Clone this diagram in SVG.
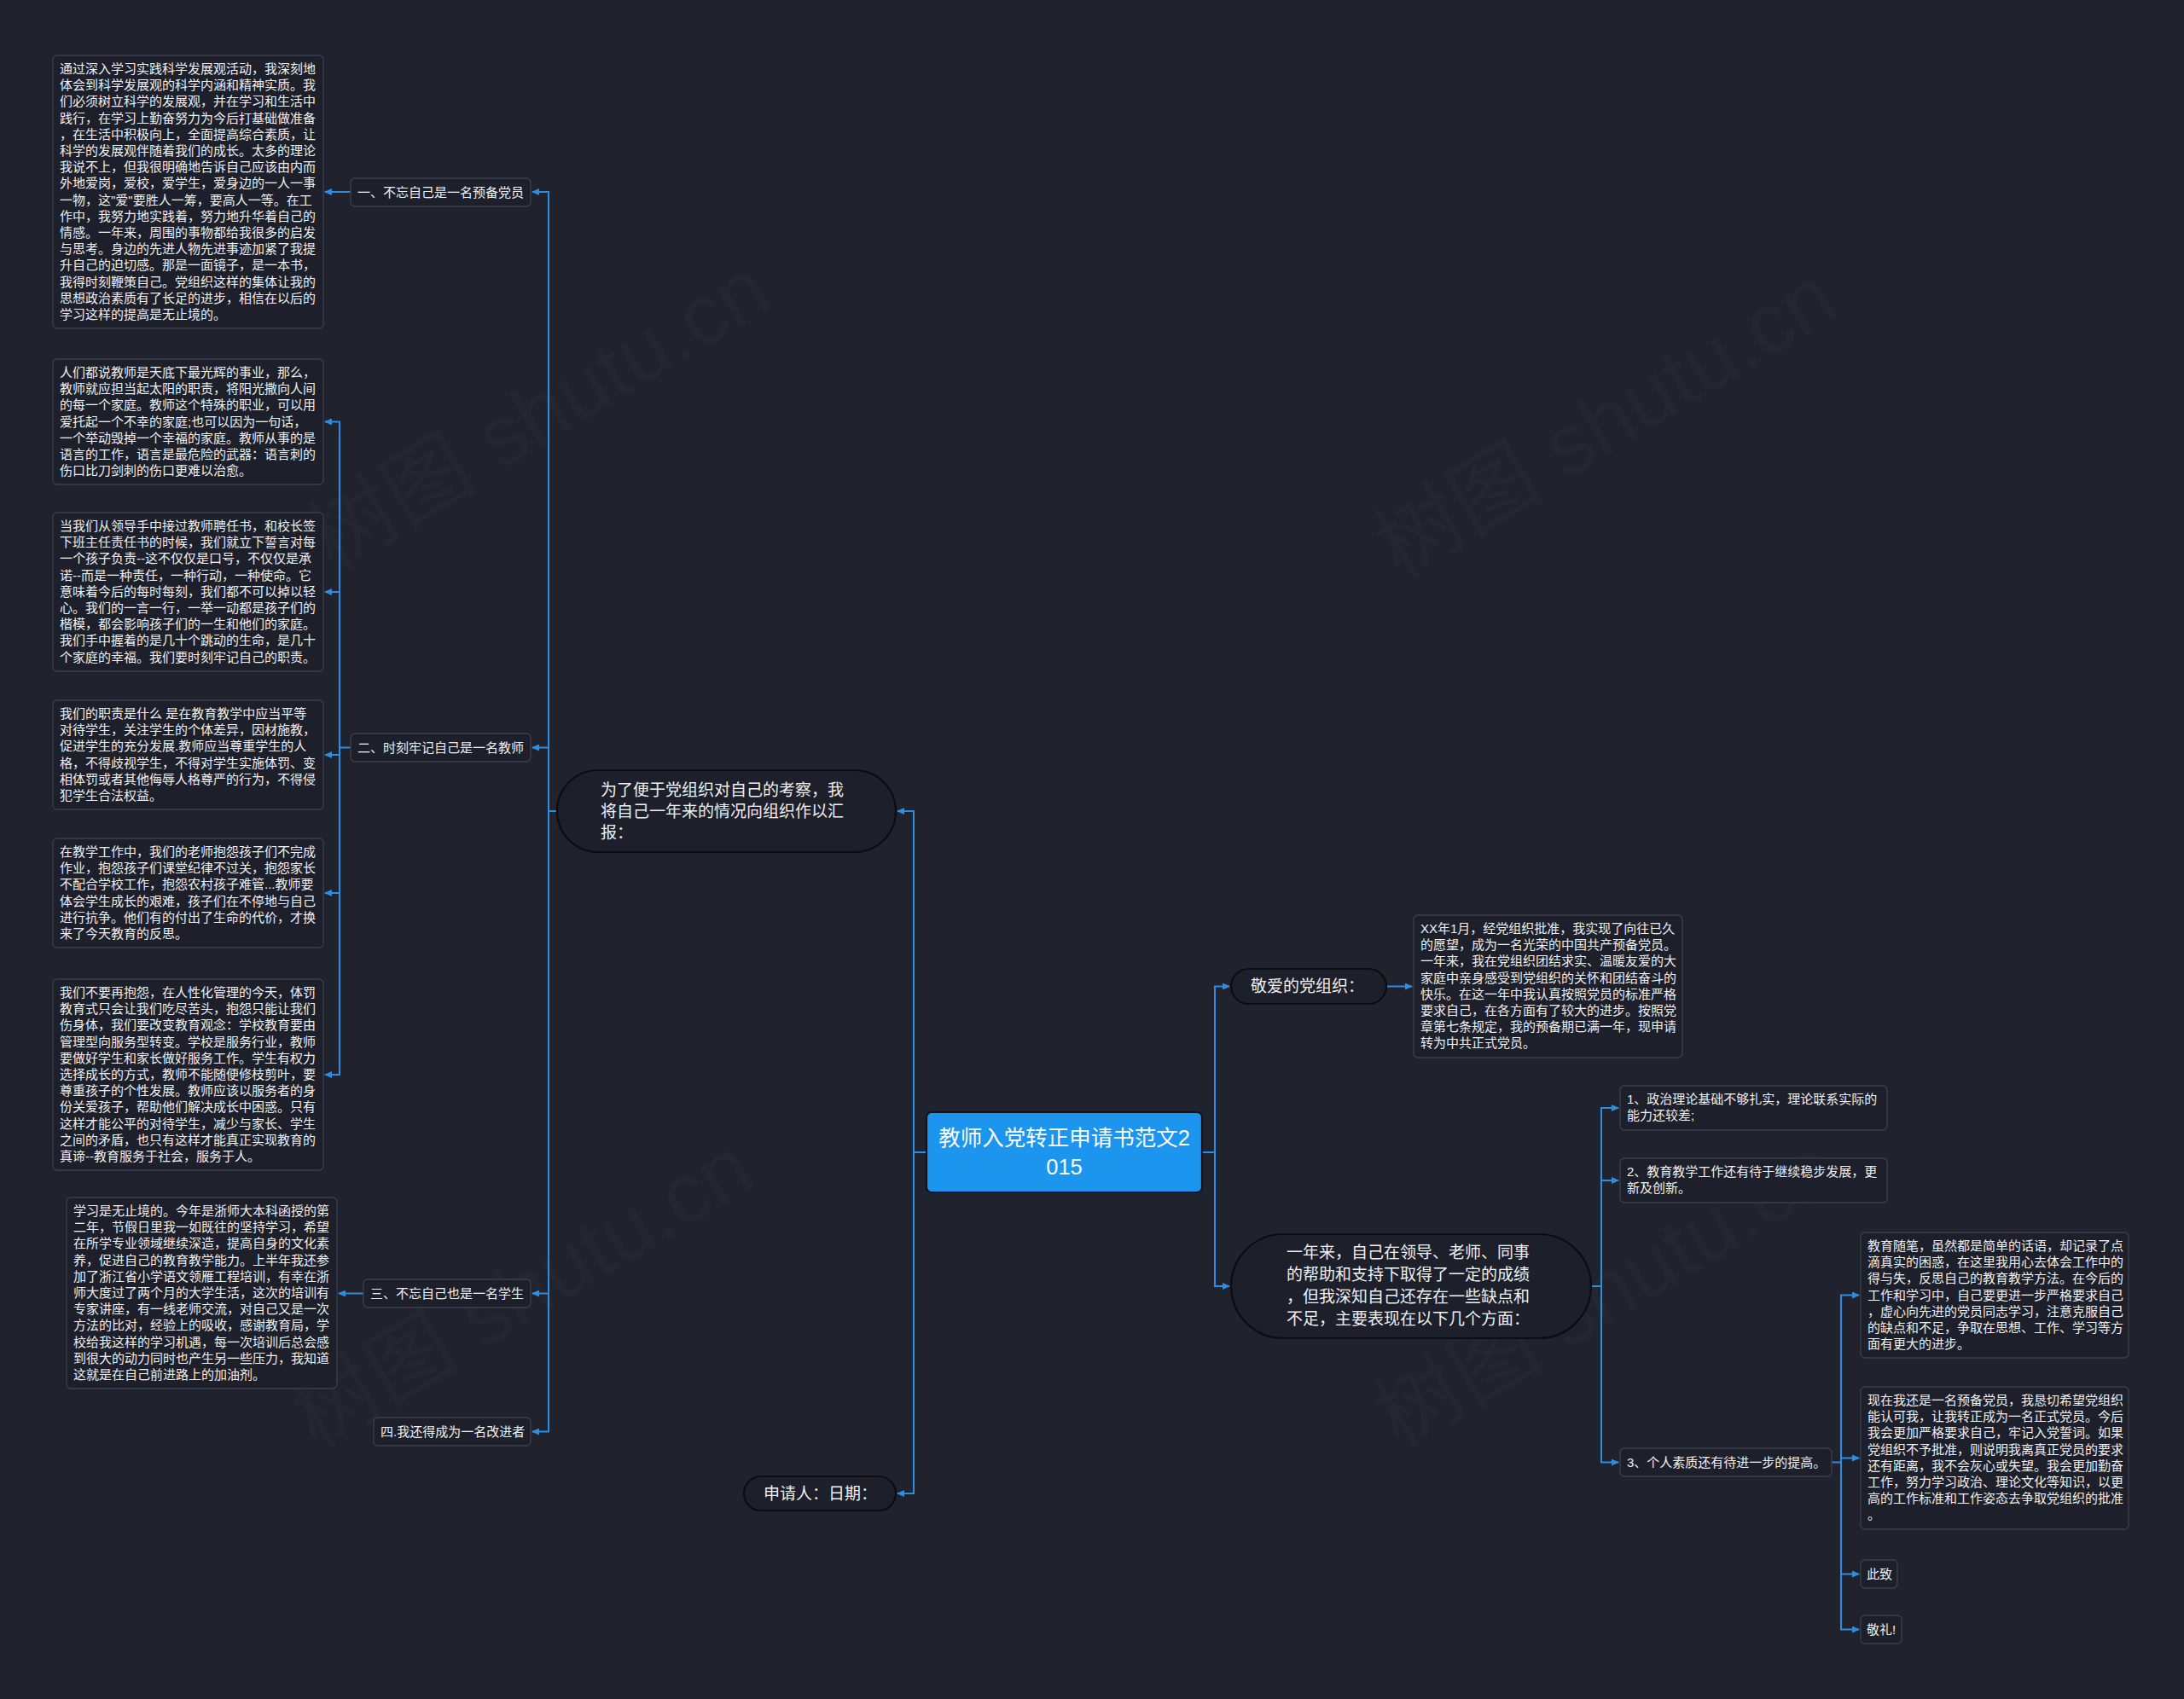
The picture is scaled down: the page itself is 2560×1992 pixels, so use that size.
<svg xmlns="http://www.w3.org/2000/svg" width="2560" height="1992" viewBox="0 0 2560 1992">
<defs>
<style>
.bg{fill:#20232e}
.box{fill:#1d202a;stroke:#3c404b;stroke-width:1.3}
.bub{fill:#1d202a;stroke:#0b0d12;stroke-width:2.2}
.root{fill:#1c95ee;stroke:#0b1420;stroke-width:2.2}
.t{font-family:'Liberation Sans','Noto Sans CJK SC',sans-serif;fill:#eef0f3}
.s15{font-size:15px}
.s19{font-size:19px}
.s25{font-size:25.5px;fill:#ffffff}
.c{fill:none;stroke:#2b8ee2;stroke-width:2}
.wm{font-family:'Liberation Sans','Noto Sans CJK SC',sans-serif;font-size:100px;fill:#ffffff;fill-opacity:0.02}
</style>
<marker id="ah" markerWidth="9" markerHeight="8" refX="8" refY="4" orient="auto" markerUnits="userSpaceOnUse">
<path d="M0,0 L9,4 L0,8 z" fill="#2b8ee2"/>
</marker>
</defs>
<rect class="bg" x="0" y="0" width="2560" height="1992"/>

<g id="watermarks">
<text class="wm" transform="translate(390,670) rotate(-31)">树图 shutu.cn</text>
<text class="wm" transform="translate(1640,680) rotate(-31)">树图 shutu.cn</text>
<text class="wm" transform="translate(370,1700) rotate(-31)">树图 shutu.cn</text>
<text class="wm" transform="translate(1640,1700) rotate(-31)">树图 shutu.cn</text>
</g>

<g id="connectors">
<path class="c" d="M1086,1351 H1071 V951 H1052" marker-end="url(#ah)"/>
<path class="c" d="M1071,1351 V1751 H1052" marker-end="url(#ah)"/>
<path class="c" d="M653,951 H643 V225 H624" marker-end="url(#ah)"/>
<path class="c" d="M643,951 V1678.5 H624" marker-end="url(#ah)"/>
<path class="c" d="M643,876.5 H624" marker-end="url(#ah)"/>
<path class="c" d="M643,1516.5 H624" marker-end="url(#ah)"/>
<path class="c" d="M411,225 H381" marker-end="url(#ah)"/>
<path class="c" d="M411,876.5 H398 V494.5 H381" marker-end="url(#ah)"/>
<path class="c" d="M398,876.5 V1260 H381" marker-end="url(#ah)"/>
<path class="c" d="M398,694 H381" marker-end="url(#ah)"/>
<path class="c" d="M398,885 H381" marker-end="url(#ah)"/>
<path class="c" d="M398,1047 H381" marker-end="url(#ah)"/>
<path class="c" d="M426,1516.5 H397" marker-end="url(#ah)"/>
<path class="c" d="M1409,1351 H1424 V1156.5 H1441" marker-end="url(#ah)"/>
<path class="c" d="M1424,1351 V1508 H1441" marker-end="url(#ah)"/>
<path class="c" d="M1625,1156.5 H1655" marker-end="url(#ah)"/>
<path class="c" d="M1865,1508 H1877 V1299 H1897" marker-end="url(#ah)"/>
<path class="c" d="M1877,1508 V1714.5 H1897" marker-end="url(#ah)"/>
<path class="c" d="M1877,1384 H1897" marker-end="url(#ah)"/>
<path class="c" d="M2147,1714.5 H2158 V1518.5 H2179" marker-end="url(#ah)"/>
<path class="c" d="M2158,1714.5 V1910.5 H2179" marker-end="url(#ah)"/>
<path class="c" d="M2158,1709.5 H2179" marker-end="url(#ah)"/>
<path class="c" d="M2158,1845.5 H2179" marker-end="url(#ah)"/>
</g>

<g id="root">
<rect class="root" x="1086" y="1304" width="323" height="94" rx="6"/>
<text class="t s25" text-anchor="middle"><tspan x="1247.5" y="1343">教师入党转正申请书范文2</tspan><tspan x="1247.5" y="1377">015</tspan></text>
</g>

<g id="n-report">
<rect class="bub" x="653" y="903" width="397" height="96" rx="48"/>
<text class="t s19"><tspan x="704" y="933">为了便于党组织对自己的考察，我</tspan><tspan x="704" y="958">将自己一年来的情况向组织作以汇</tspan><tspan x="704" y="983">报：</tspan></text>
</g>

<g id="n-sign">
<rect class="bub" x="872" y="1731" width="178" height="40" rx="20"/>
<text class="t s19" x="895" y="1758">申请人：日期：</text>
</g>

<g id="n-l1">
<rect class="box" x="411" y="209" width="211" height="33" rx="5"/>
<text class="t s15" x="419" y="231">一、不忘自己是一名预备党员</text>
</g>
<g id="n-l2">
<rect class="box" x="411" y="860" width="211" height="33" rx="5"/>
<text class="t s15" x="419" y="882">二、时刻牢记自己是一名教师</text>
</g>
<g id="n-l3">
<rect class="box" x="426" y="1500" width="196" height="33" rx="5"/>
<text class="t s15" x="434" y="1522">三、不忘自己也是一名学生</text>
</g>
<g id="n-l4">
<rect class="box" x="438" y="1662" width="184" height="33" rx="5"/>
<text class="t s15" x="446" y="1684">四.我还得成为一名改进者</text>
</g>

<g id="n-b1">
<rect class="box" x="62" y="65" width="317" height="320" rx="5"/>
<text class="t s15">
<tspan x="70" y="86">通过深入学习实践科学发展观活动，我深刻地</tspan>
<tspan x="70" y="105.2">体会到科学发展观的科学内涵和精神实质。我</tspan>
<tspan x="70" y="124.4">们必须树立科学的发展观，并在学习和生活中</tspan>
<tspan x="70" y="143.6">践行，在学习上勤奋努力为今后打基础做准备</tspan>
<tspan x="70" y="162.8">，在生活中积极向上，全面提高综合素质，让</tspan>
<tspan x="70" y="182">科学的发展观伴随着我们的成长。太多的理论</tspan>
<tspan x="70" y="201.2">我说不上，但我很明确地告诉自己应该由内而</tspan>
<tspan x="70" y="220.4">外地爱岗，爱校，爱学生，爱身边的一人一事</tspan>
<tspan x="70" y="239.6">一物，这"爱"要胜人一筹，要高人一等。在工</tspan>
<tspan x="70" y="258.8">作中，我努力地实践着，努力地升华着自己的</tspan>
<tspan x="70" y="278">情感。一年来，周围的事物都给我很多的启发</tspan>
<tspan x="70" y="297.2">与思考。身边的先进人物先进事迹加紧了我提</tspan>
<tspan x="70" y="316.4">升自己的迫切感。那是一面镜子，是一本书，</tspan>
<tspan x="70" y="335.6">我得时刻鞭策自己。党组织这样的集体让我的</tspan>
<tspan x="70" y="354.8">思想政治素质有了长足的进步，相信在以后的</tspan>
<tspan x="70" y="374">学习这样的提高是无止境的。</tspan>
</text>
</g>

<g id="n-b2">
<rect class="box" x="62" y="421" width="317" height="147" rx="5"/>
<text class="t s15">
<tspan x="70" y="442">人们都说教师是天底下最光辉的事业，那么，</tspan>
<tspan x="70" y="461.2">教师就应担当起太阳的职责，将阳光撒向人间</tspan>
<tspan x="70" y="480.4">的每一个家庭。教师这个特殊的职业，可以用</tspan>
<tspan x="70" y="499.6">爱托起一个不幸的家庭;也可以因为一句话，</tspan>
<tspan x="70" y="518.8">一个举动毁掉一个幸福的家庭。教师从事的是</tspan>
<tspan x="70" y="538">语言的工作，语言是最危险的武器：语言刺的</tspan>
<tspan x="70" y="557.2">伤口比刀剑刺的伤口更难以治愈。</tspan>
</text>
</g>

<g id="n-b3">
<rect class="box" x="62" y="601" width="317" height="186" rx="5"/>
<text class="t s15">
<tspan x="70" y="622">当我们从领导手中接过教师聘任书，和校长签</tspan>
<tspan x="70" y="641.2">下班主任责任书的时候，我们就立下誓言对每</tspan>
<tspan x="70" y="660.4">一个孩子负责--这不仅仅是口号，不仅仅是承</tspan>
<tspan x="70" y="679.6">诺--而是一种责任，一种行动，一种使命。它</tspan>
<tspan x="70" y="698.8">意味着今后的每时每刻，我们都不可以掉以轻</tspan>
<tspan x="70" y="718">心。我们的一言一行，一举一动都是孩子们的</tspan>
<tspan x="70" y="737.2">楷模，都会影响孩子们的一生和他们的家庭。</tspan>
<tspan x="70" y="756.4">我们手中握着的是几十个跳动的生命，是几十</tspan>
<tspan x="70" y="775.6">个家庭的幸福。我们要时刻牢记自己的职责。</tspan>
</text>
</g>

<g id="n-b4">
<rect class="box" x="62" y="821" width="317" height="128" rx="5"/>
<text class="t s15">
<tspan x="70" y="842">我们的职责是什么 是在教育教学中应当平等</tspan>
<tspan x="70" y="861.2">对待学生，关注学生的个体差异，因材施教，</tspan>
<tspan x="70" y="880.4">促进学生的充分发展.教师应当尊重学生的人</tspan>
<tspan x="70" y="899.6">格，不得歧视学生，不得对学生实施体罚、变</tspan>
<tspan x="70" y="918.8">相体罚或者其他侮辱人格尊严的行为，不得侵</tspan>
<tspan x="70" y="938">犯学生合法权益。</tspan>
</text>
</g>

<g id="n-b5">
<rect class="box" x="62" y="983" width="317" height="128" rx="5"/>
<text class="t s15">
<tspan x="70" y="1004">在教学工作中，我们的老师抱怨孩子们不完成</tspan>
<tspan x="70" y="1023.2">作业，抱怨孩子们课堂纪律不过关，抱怨家长</tspan>
<tspan x="70" y="1042.4">不配合学校工作，抱怨农村孩子难管...教师要</tspan>
<tspan x="70" y="1061.6">体会学生成长的艰难，孩子们在不停地与自己</tspan>
<tspan x="70" y="1080.8">进行抗争。他们有的付出了生命的代价，才换</tspan>
<tspan x="70" y="1100">来了今天教育的反思。</tspan>
</text>
</g>

<g id="n-b6">
<rect class="box" x="62" y="1148" width="317" height="224" rx="5"/>
<text class="t s15">
<tspan x="70" y="1169">我们不要再抱怨，在人性化管理的今天，体罚</tspan>
<tspan x="70" y="1188.2">教育式只会让我们吃尽苦头，抱怨只能让我们</tspan>
<tspan x="70" y="1207.4">伤身体，我们要改变教育观念：学校教育要由</tspan>
<tspan x="70" y="1226.6">管理型向服务型转变。学校是服务行业，教师</tspan>
<tspan x="70" y="1245.8">要做好学生和家长做好服务工作。学生有权力</tspan>
<tspan x="70" y="1265">选择成长的方式，教师不能随便修枝剪叶，要</tspan>
<tspan x="70" y="1284.2">尊重孩子的个性发展。教师应该以服务者的身</tspan>
<tspan x="70" y="1303.4">份关爱孩子，帮助他们解决成长中困惑。只有</tspan>
<tspan x="70" y="1322.6">这样才能公平的对待学生，减少与家长、学生</tspan>
<tspan x="70" y="1341.8">之间的矛盾，也只有这样才能真正实现教育的</tspan>
<tspan x="70" y="1361">真谛--教育服务于社会，服务于人。</tspan>
</text>
</g>

<g id="n-b7">
<rect class="box" x="78" y="1404" width="317" height="224" rx="5"/>
<text class="t s15">
<tspan x="86" y="1425">学习是无止境的。今年是浙师大本科函授的第</tspan>
<tspan x="86" y="1444.2">二年，节假日里我一如既往的坚持学习，希望</tspan>
<tspan x="86" y="1463.4">在所学专业领域继续深造，提高自身的文化素</tspan>
<tspan x="86" y="1482.6">养，促进自己的教育教学能力。上半年我还参</tspan>
<tspan x="86" y="1501.8">加了浙江省小学语文领雁工程培训，有幸在浙</tspan>
<tspan x="86" y="1521">师大度过了两个月的大学生活，这次的培训有</tspan>
<tspan x="86" y="1540.2">专家讲座，有一线老师交流，对自己又是一次</tspan>
<tspan x="86" y="1559.4">方法的比对，经验上的吸收，感谢教育局，学</tspan>
<tspan x="86" y="1578.6">校给我这样的学习机遇，每一次培训后总会感</tspan>
<tspan x="86" y="1597.8">到很大的动力同时也产生另一些压力，我知道</tspan>
<tspan x="86" y="1617">这就是在自己前进路上的加油剂。</tspan>
</text>
</g>

<g id="n-dear">
<rect class="bub" x="1443" y="1136" width="182" height="41" rx="20.5"/>
<text class="t s19" x="1466" y="1163">敬爱的党组织：</text>
</g>

<g id="n-r1">
<rect class="box" x="1657" y="1073" width="315" height="167" rx="5"/>
<text class="t s15">
<tspan x="1665" y="1094">XX年1月，经党组织批准，我实现了向往已久</tspan>
<tspan x="1665" y="1113.2">的愿望，成为一名光荣的中国共产预备党员。</tspan>
<tspan x="1665" y="1132.4">一年来，我在党组织团结求实、温暖友爱的大</tspan>
<tspan x="1665" y="1151.6">家庭中亲身感受到党组织的关怀和团结奋斗的</tspan>
<tspan x="1665" y="1170.8">快乐。在这一年中我认真按照党员的标准严格</tspan>
<tspan x="1665" y="1190">要求自己，在各方面有了较大的进步。按照党</tspan>
<tspan x="1665" y="1209.2">章第七条规定，我的预备期已满一年，现申请</tspan>
<tspan x="1665" y="1228.4">转为中共正式党员。</tspan>
</text>
</g>

<g id="n-year">
<rect class="bub" x="1443" y="1447" width="422" height="122" rx="61"/>
<text class="t s19">
<tspan x="1508" y="1475">一年来，自己在领导、老师、同事</tspan>
<tspan x="1508" y="1501">的帮助和支持下取得了一定的成绩</tspan>
<tspan x="1508" y="1527">，但我深知自己还存在一些缺点和</tspan>
<tspan x="1508" y="1553">不足，主要表现在以下几个方面：</tspan>
</text>
</g>

<g id="n-i1">
<rect class="box" x="1899" y="1273" width="313" height="52" rx="5"/>
<text class="t s15"><tspan x="1907" y="1294">1、政治理论基础不够扎实，理论联系实际的</tspan><tspan x="1907" y="1313.2">能力还较差;</tspan></text>
</g>
<g id="n-i2">
<rect class="box" x="1899" y="1358" width="313" height="52" rx="5"/>
<text class="t s15"><tspan x="1907" y="1379">2、教育教学工作还有待于继续稳步发展，更</tspan><tspan x="1907" y="1398.2">新及创新。</tspan></text>
</g>
<g id="n-i3">
<rect class="box" x="1899" y="1698" width="248" height="33" rx="5"/>
<text class="t s15" x="1907" y="1720">3、个人素质还有待进一步的提高。</text>
</g>

<g id="n-a">
<rect class="box" x="2181" y="1445" width="314" height="147" rx="5"/>
<text class="t s15">
<tspan x="2189" y="1466">教育随笔，虽然都是简单的话语，却记录了点</tspan>
<tspan x="2189" y="1485.2">滴真实的困惑，在这里我用心去体会工作中的</tspan>
<tspan x="2189" y="1504.4">得与失，反思自己的教育教学方法。在今后的</tspan>
<tspan x="2189" y="1523.6">工作和学习中，自己要更进一步严格要求自己</tspan>
<tspan x="2189" y="1542.8">，虚心向先进的党员同志学习，注意克服自己</tspan>
<tspan x="2189" y="1562">的缺点和不足，争取在思想、工作、学习等方</tspan>
<tspan x="2189" y="1581.2">面有更大的进步。</tspan>
</text>
</g>

<g id="n-b">
<rect class="box" x="2181" y="1626" width="314" height="167" rx="5"/>
<text class="t s15">
<tspan x="2189" y="1647">现在我还是一名预备党员，我恳切希望党组织</tspan>
<tspan x="2189" y="1666.2">能认可我，让我转正成为一名正式党员。今后</tspan>
<tspan x="2189" y="1685.4">我会更加严格要求自己，牢记入党誓词。如果</tspan>
<tspan x="2189" y="1704.6">党组织不予批准，则说明我离真正党员的要求</tspan>
<tspan x="2189" y="1723.8">还有距离，我不会灰心或失望。我会更加勤奋</tspan>
<tspan x="2189" y="1743">工作，努力学习政治、理论文化等知识，以更</tspan>
<tspan x="2189" y="1762.2">高的工作标准和工作姿态去争取党组织的批准</tspan>
<tspan x="2189" y="1781.4">。</tspan>
</text>
</g>

<g id="n-cizhi">
<rect class="box" x="2181" y="1829" width="43" height="33" rx="5"/>
<text class="t s15" x="2188" y="1851">此致</text>
</g>
<g id="n-jingli">
<rect class="box" x="2181" y="1894" width="48" height="33" rx="5"/>
<text class="t s15" x="2188" y="1916">敬礼!</text>
</g>
</svg>
